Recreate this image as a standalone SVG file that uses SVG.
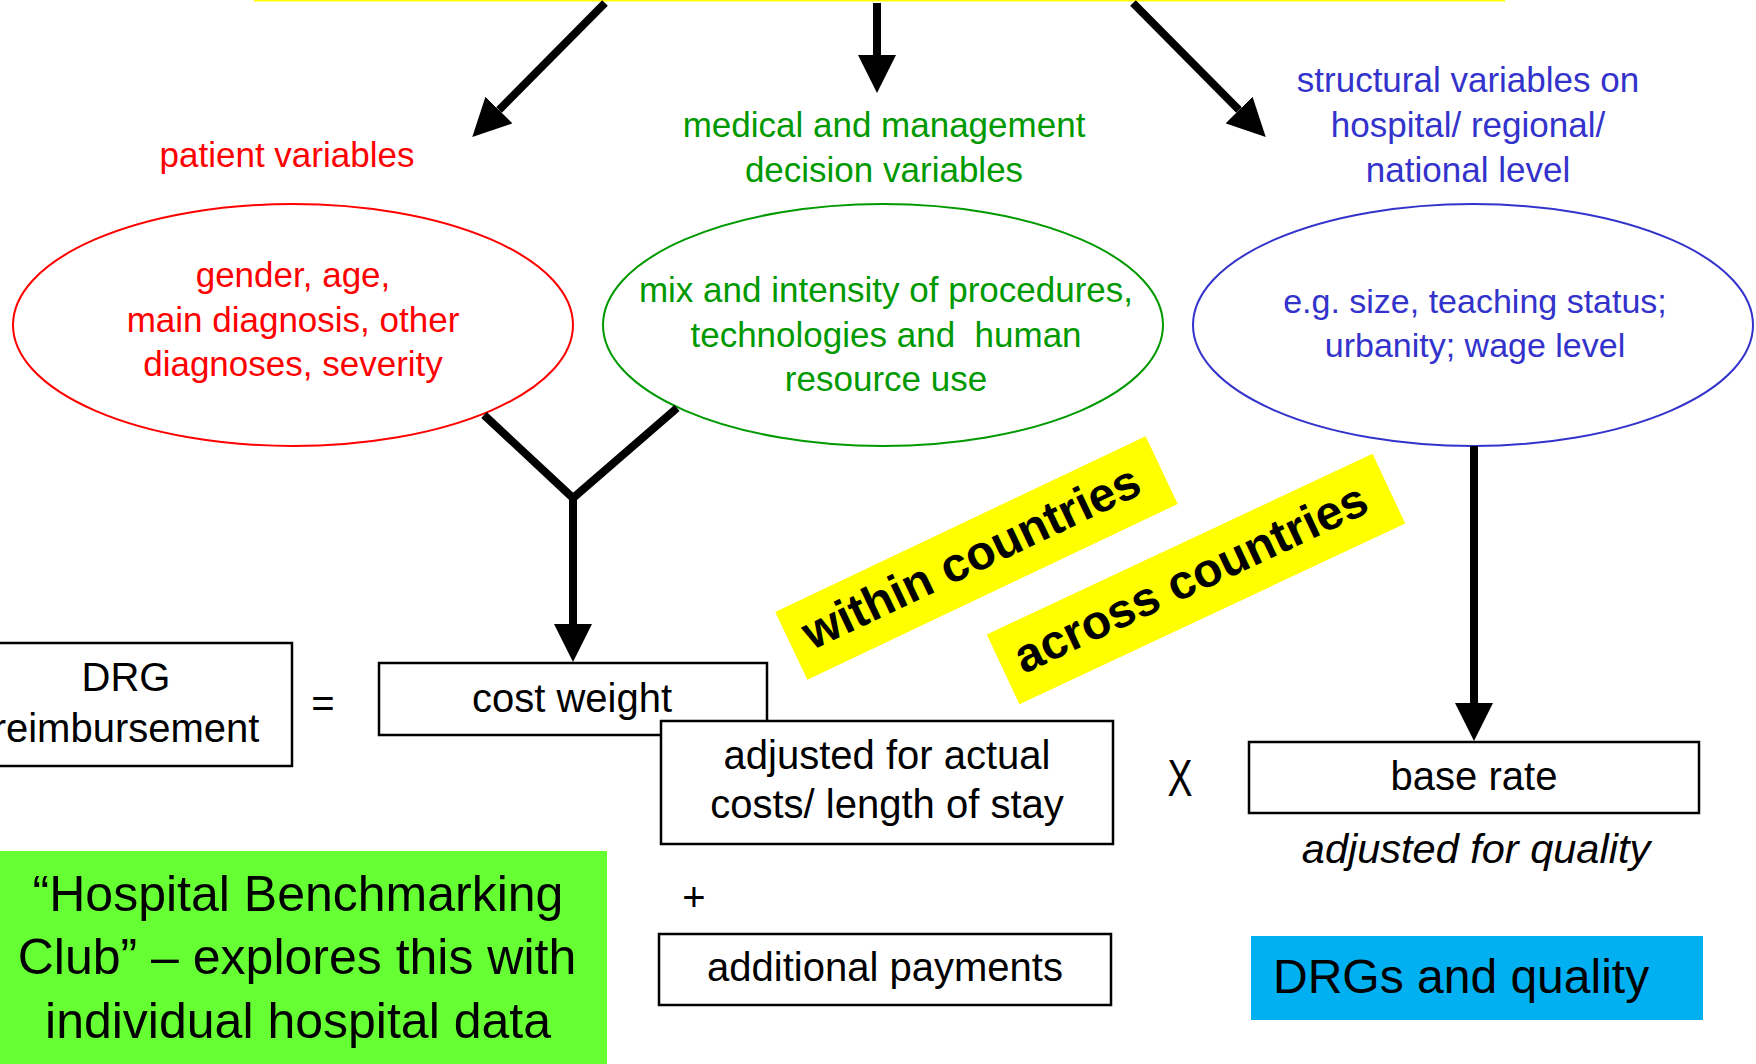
<svg xmlns="http://www.w3.org/2000/svg" width="1756" height="1064" viewBox="0 0 1756 1064">
<defs>
<marker id="ah" markerUnits="userSpaceOnUse" markerWidth="38" markerHeight="38" viewBox="0 0 38 38" refX="0" refY="19" orient="auto">
<path d="M0,0 L38,19 L0,38 Z" fill="#000"/>
</marker>
<style>
text{font-family:"Liberation Sans",Arial,sans-serif;}
.red{fill:#ff0000;font-size:35px;text-anchor:middle;}
.grn{fill:#009900;font-size:35px;text-anchor:middle;}
.blu{fill:#3333cc;font-size:35px;text-anchor:middle;}
.box{fill:#fff;stroke:#000;stroke-width:2.5;}
.bt{fill:#000;font-size:40px;text-anchor:middle;}
.conn{stroke:#000;stroke-width:8;fill:none;}
.lbl{fill:#ffff00;}
.lt{fill:#000;font-size:48px;font-weight:bold;text-anchor:middle;}
</style>
</defs>
<rect width="1756" height="1064" fill="#fff"/>
<rect id="topbar" x="254" y="-2" width="1251" height="3.5" fill="#ffff00"/>

<g id="patient-header"><text class="red" x="287" y="167">patient variables</text></g>
<g id="medical-header"><text class="grn" x="884" y="137">medical and management</text><text class="grn" x="884" y="182">decision variables</text></g>
<g id="structural-header"><text class="blu" x="1468" y="92">structural variables on</text><text class="blu" x="1468" y="137">hospital/ regional/</text><text class="blu" x="1468" y="182">national level</text></g>

<g id="patient-ellipse">
<ellipse cx="293" cy="325" rx="280" ry="121" fill="#fff" stroke="#ff0000" stroke-width="2"/>
<text class="red" x="293" y="287">gender, age,</text>
<text class="red" x="293" y="332">main diagnosis, other</text>
<text class="red" x="293" y="376">diagnoses, severity</text>
</g>
<g id="medical-ellipse">
<ellipse cx="883" cy="325" rx="280" ry="121" fill="#fff" stroke="#009900" stroke-width="2"/>
<text class="grn" x="886" y="302">mix and intensity of procedures,</text>
<text class="grn" x="886" y="347" xml:space="preserve">technologies and  human</text>
<text class="grn" x="886" y="391">resource use</text>
</g>
<g id="structural-ellipse">
<ellipse cx="1473" cy="325" rx="280" ry="121" fill="#fff" stroke="#3333cc" stroke-width="2"/>
<text class="blu" x="1475" y="313" style="font-size:34px">e.g. size, teaching status;</text>
<text class="blu" x="1475" y="357" style="font-size:34px">urbanity; wage level</text>
</g>

<g id="connectors">
<line class="conn" x1="605" y1="3" x2="499" y2="110" marker-end="url(#ah)"/>
<line class="conn" x1="877" y1="3" x2="877" y2="55" marker-end="url(#ah)"/>
<line class="conn" x1="1133" y1="3" x2="1239" y2="110" marker-end="url(#ah)"/>
<polyline class="conn" points="484,415 573,498 677,408"/>
<line class="conn" x1="573" y1="494" x2="573" y2="624" marker-end="url(#ah)"/>
<line class="conn" x1="1474" y1="446" x2="1474" y2="703" marker-end="url(#ah)"/>
</g>

<g id="drg-box">
<rect class="box" x="-40" y="643" width="332" height="123"/>
<text class="bt" x="126" y="691">DRG</text>
<text class="bt" x="126" y="742">reimbursement</text>
</g>
<g id="equals"><text class="bt" x="323" y="717">=</text></g>
<g id="cost-weight">
<rect class="box" x="379" y="663" width="388" height="72"/>
<text class="bt" x="572" y="712">cost weight</text>
</g>
<g id="adjusted-box">
<rect class="box" x="661" y="721" width="452" height="123"/>
<text class="bt" x="887" y="769">adjusted for actual</text>
<text class="bt" x="887" y="818">costs/ length of stay</text>
</g>
<g id="plus"><text class="bt" x="694" y="911">+</text></g>
<g id="additional-box">
<rect class="box" x="659" y="934" width="452" height="71"/>
<text class="bt" x="885" y="981">additional payments</text>
</g>
<g id="times"><text class="bt" transform="translate(1180,796) scale(0.72,1)" x="0" y="0" style="font-size:52px">X</text></g>
<g id="base-rate">
<rect class="box" x="1249" y="742" width="450" height="71"/>
<text class="bt" x="1474" y="790">base rate</text>
<text class="bt" x="1476" y="863" style="font-style:italic;font-size:41.5px">adjusted for quality</text>
</g>

<g id="within-label" transform="translate(976.5,558) rotate(-25.4)">
<rect class="lbl" x="-205" y="-37.5" width="410" height="75"/>
<text class="lt" x="-4.5" y="13">within countries</text>
</g>
<g id="across-label" transform="translate(1196,579) rotate(-25.1)">
<rect class="lbl" x="-213" y="-38.5" width="426" height="77"/>
<text class="lt" x="-4.5" y="13">across countries</text>
</g>

<g id="club-box">
<rect x="0" y="851" width="607" height="213" fill="#66ff33"/>
<text x="298" y="911" style="font-size:50px;text-anchor:middle;fill:#000">“Hospital Benchmarking</text>
<text x="297" y="974" style="font-size:50px;text-anchor:middle;fill:#000">Club” – explores this with</text>
<text x="298" y="1038" style="font-size:50px;text-anchor:middle;fill:#000">individual hospital data</text>
</g>
<g id="quality-box">
<rect x="1251" y="936" width="452" height="84" fill="#00b0f0"/>
<text x="1273" y="993" style="font-size:48px;fill:#000">DRGs and quality</text>
</g>
</svg>
